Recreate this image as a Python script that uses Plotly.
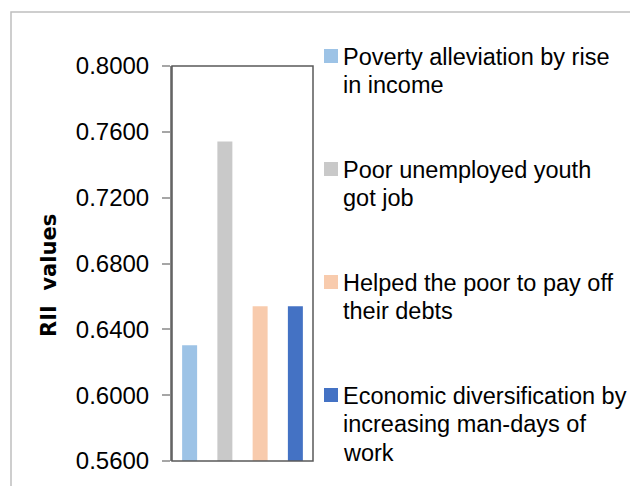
import plotly.graph_objects as go

categories = [
    "Poverty alleviation by rise in income",
    "Poor unemployed youth got job",
    "Helped the poor to pay off their debts",
    "Economic diversification by increasing man-days of work",
]
rii_values = [0.6303, 0.7542, 0.6540, 0.6540]
legend_lines = [
    ["Poverty alleviation by rise", "in income"],
    ["Poor unemployed youth", "got job"],
    ["Helped the poor to pay off", "their debts"],
    ["Economic diversification by", "increasing man-days of", "work"],
]
tick_values = [0.56, 0.60, 0.64, 0.68, 0.72, 0.76, 0.80]
colors = ["#9DC3E6", "#C9C9C9", "#F8CBAD", "#4472C4"]

W, H = 630, 486
L, R, T, B = 172, 313, 66, 461


def px(x):
    return (x - L) / (R - L)


def py(y):
    return (B - y) / (B - T)


fig = go.Figure()
for cat, val, col in zip(categories, rii_values, colors):
    fig.add_trace(go.Bar(x=[cat], y=[val], name=cat, marker=dict(color=col, line=dict(width=0)),
                         width=0.425, showlegend=False))

font_main = "Liberation Sans, Arial, sans-serif"

shapes = [
    # outer chart frame (left and top visible)
    dict(type="path", xref="paper", yref="paper",
         path=f"M {px(11)} {py(490)} L {px(11)} {py(12)} L {px(640)} {py(12)}",
         line=dict(color="#BFBFBF", width=1.5)),
    # plot border
    dict(type="rect", xref="paper", yref="paper", x0=0, x1=1, y0=0, y1=1,
         line=dict(color="#595959", width=1.5), layer="above"),
]
annotations = [
    dict(text="<b>RII  values</b>", textangle=-90, xref="paper", yref="paper",
         x=px(49), y=py(276), showarrow=False, xanchor="center", yanchor="middle",
         font=dict(family="DejaVu Sans, Verdana, sans-serif", size=21, color="#000000")),
]

item_tops = [49, 162, 275, 388]
line_gap = 28.3
for i, (lines, col) in enumerate(zip(legend_lines, colors)):
    top = item_tops[i]
    shapes.append(dict(type="rect", xref="paper", yref="paper",
                       x0=px(324), x1=px(338), y0=py(top + 14), y1=py(top),
                       fillcolor=col, line=dict(width=0)))
    for j, ln in enumerate(lines):
        cy = top + 8 + j * line_gap
        annotations.append(dict(text=ln, xref="paper", yref="paper", x=px(341), y=py(cy),
                                showarrow=False, xanchor="left", yanchor="middle",
                                font=dict(family=font_main, size=23.5, color="#000000")))

fig.update_layout(
    width=W, height=H,
    margin=dict(l=L, r=W - R, t=T, b=H - B),
    paper_bgcolor="white", plot_bgcolor="white",
    barmode="overlay",
    xaxis=dict(showticklabels=False, ticks="", showgrid=False, zeroline=False,
               showline=False, range=[-0.5, 3.5]),
    yaxis=dict(range=[0.56, 0.80], tickvals=tick_values, tickformat=".4f",
               ticks="outside", ticklen=8, tickcolor="#A6A6A6", tickwidth=2,
               showline=True, linecolor="#868686", linewidth=2,
               showgrid=False, zeroline=False, ticklabelstandoff=8,
               tickfont=dict(family=font_main, size=24, color="#000000")),
    shapes=shapes,
    annotations=annotations,
    showlegend=False,
)

fig.write_html("out.html", config={"displayModeBar": False},
               post_script="document.body.style.margin='0';")
